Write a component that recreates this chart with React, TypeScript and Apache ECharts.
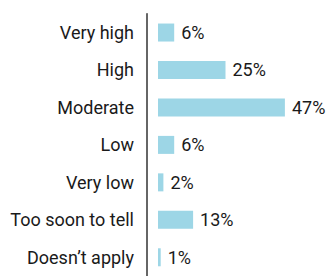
import React, { useEffect, useRef } from "react";
import * as echarts from "echarts";

const categories = ["Very high", "High", "Moderate", "Low", "Very low", "Too soon to tell", "Doesn\u2019t apply"];
const values = [6, 25, 47, 6, 2, 13, 1];

export default function App() {
  const ref = useRef<HTMLDivElement>(null);
  useEffect(() => {
    const chart = echarts.init(ref.current!, undefined, { renderer: "svg" });
    chart.setOption({
      animation: false,
      grid: { left: 158, top: 13.8, width: 162, height: 268.3 },
      xAxis: {
        type: "value",
        min: 0,
        max: 60,
        show: false,
      },
      yAxis: {
        type: "category",
        data: categories,
        inverse: true,
        offset: 11,
        axisLine: { show: true, onZero: false, lineStyle: { color: "#333", width: 1.5 } },
        axisTick: { show: false },
        axisLabel: {
          margin: 13,
          color: "#1a1a1a",
          fontFamily: "Roboto",
          fontSize: 18,
        },
      },
      series: [
        {
          type: "bar",
          data: values,
          barWidth: 18,
          itemStyle: { color: "#9dd6e6" },
          label: {
            show: true,
            position: "right",
            distance: 7,
            formatter: "{c}%",
            color: "#1a1a1a",
            fontFamily: "Roboto",
            fontSize: 18,
          },
        },
      ],
    });
    return () => chart.dispose();
  }, []);
  return <div ref={ref} style={{ position: "fixed", left: 0, top: 0, width: 327, height: 276, background: "#fff" }} />;
}
